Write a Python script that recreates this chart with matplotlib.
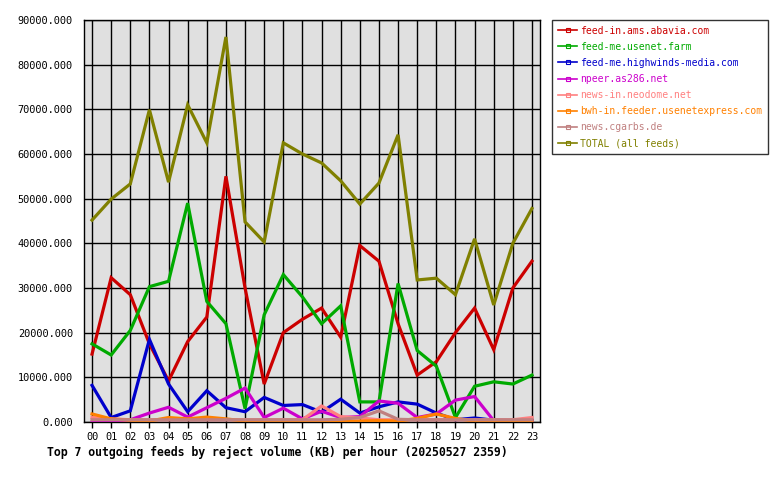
import matplotlib
matplotlib.use("Agg")
import matplotlib.pyplot as plt
from matplotlib.lines import Line2D

hours = ["%02d" % h for h in range(24)]

feed_names = [
    "feed-in.ams.abavia.com",
    "feed-me.usenet.farm",
    "feed-me.highwinds-media.com",
    "npeer.as286.net",
    "news-in.neodome.net",
    "bwh-in.feeder.usenetexpress.com",
    "news.cgarbs.de",
    "TOTAL (all feeds)",
]
feed_colors = ["#cc0000", "#00aa00", "#0000cc", "#cc00cc", "#ff8080", "#ff8000", "#c08080", "#808000"]

abavia = [15200, 32300, 28500, 17500, 9200, 18000, 23500, 55000, 30000, 8500, 20000, 23000,
          25500, 19000, 39500, 36000, 22000, 10500, 13500, 20000, 25500, 16200, 30000, 36000]
usenetfarm = [17500, 15000, 20500, 30300, 31500, 49000, 27000, 22000, 3000, 24000, 33000, 28000,
              22000, 26000, 4500, 4500, 31000, 16000, 12500, 1000, 8000, 9000, 8500, 10500]
highwinds = [8200, 1000, 2500, 18500, 8500, 2300, 7000, 3200, 2300, 5500, 3700, 3900,
             2200, 5100, 2000, 3400, 4500, 4000, 2000, 500, 900, 400, 300, 300]
npeer = [0, 0, 500, 2000, 3300, 1100, 3200, 5300, 7600, 1000, 3100, 700,
         2400, 1000, 1200, 4700, 4200, 1000, 1800, 4900, 5700, 300, 300, 300]
neodome = [1000, 700, 500, 500, 500, 500, 500, 500, 500, 500, 500, 500,
           3600, 1200, 900, 500, 500, 500, 500, 500, 500, 500, 500, 1000]
usenetexpress = [1800, 700, 400, 200, 1000, 700, 1100, 700, 200, 200, 200, 200,
                 200, 200, 200, 300, 200, 800, 1800, 800, 200, 200, 200, 200]
cgarbs = [500, 500, 500, 500, 500, 500, 500, 500, 500, 500, 500, 500,
          500, 600, 1000, 2500, 600, 500, 500, 500, 500, 500, 500, 500]
total = [45200, 49900, 53300, 69900, 53700, 71000, 62500, 86200, 44800, 40300, 62500, 60000,
         58000, 54000, 48800, 53500, 64300, 31800, 32200, 28500, 41000, 26200, 40000, 47800]

series = [abavia, usenetfarm, highwinds, npeer, neodome, usenetexpress, cgarbs, total]
yticks = list(range(0, 90001, 10000))
title = "Top 7 outgoing feeds by reject volume (KB) per hour (20250527 2359)"

plt.rcParams['font.family'] = ['DejaVu Sans Mono']

fig = plt.figure(figsize=(7.8, 4.8), dpi=100)
ax = fig.add_axes([84/780, 1-422/480, 456/780, 402/480])
ax.set_facecolor("#e0e0e0")

x = list(range(24))
for vals, col in zip(series, feed_colors):
    ax.plot(x, vals, color=col, lw=2.3, solid_joinstyle="miter", zorder=3)

ax.set_xlim(-0.42, 23.42)
ax.set_ylim(0, 90000)
ax.set_xticks(x)
ax.set_xticklabels(hours, fontsize=7.4)
ax.set_yticks(yticks)
ax.set_yticklabels(["%d.000" % v for v in yticks], fontsize=7.4)
ax.grid(True, color="black", lw=1.0, zorder=1)
ax.set_axisbelow(True)
ax.tick_params(axis="x", length=4, width=1, pad=3, direction="out")
ax.tick_params(axis="y", length=0, pad=8)
for s in ax.spines.values():
    s.set_color("black")
    s.set_linewidth(1.0)

fig.text(47/780, 1-452/480, title, fontsize=8.3, fontweight="bold", va="center", ha="left")

handles = [Line2D([0], [0], color=c, lw=1.2, marker="s", markersize=3,
                  markerfacecolor="none", markeredgecolor=c, markeredgewidth=0.8)
           for c in feed_colors]
leg = fig.legend(handles, feed_names, loc="upper left",
                 bbox_to_anchor=(552/780, 1-20/480), fontsize=7.0,
                 frameon=True, fancybox=False, handlelength=2.0, handletextpad=0.3,
                 labelspacing=0.62, borderpad=0.6, borderaxespad=0, labelcolor="linecolor")
leg.get_frame().set_edgecolor("black")
leg.get_frame().set_linewidth(1.0)

fig.savefig("out.png", dpi=100, facecolor="white")
